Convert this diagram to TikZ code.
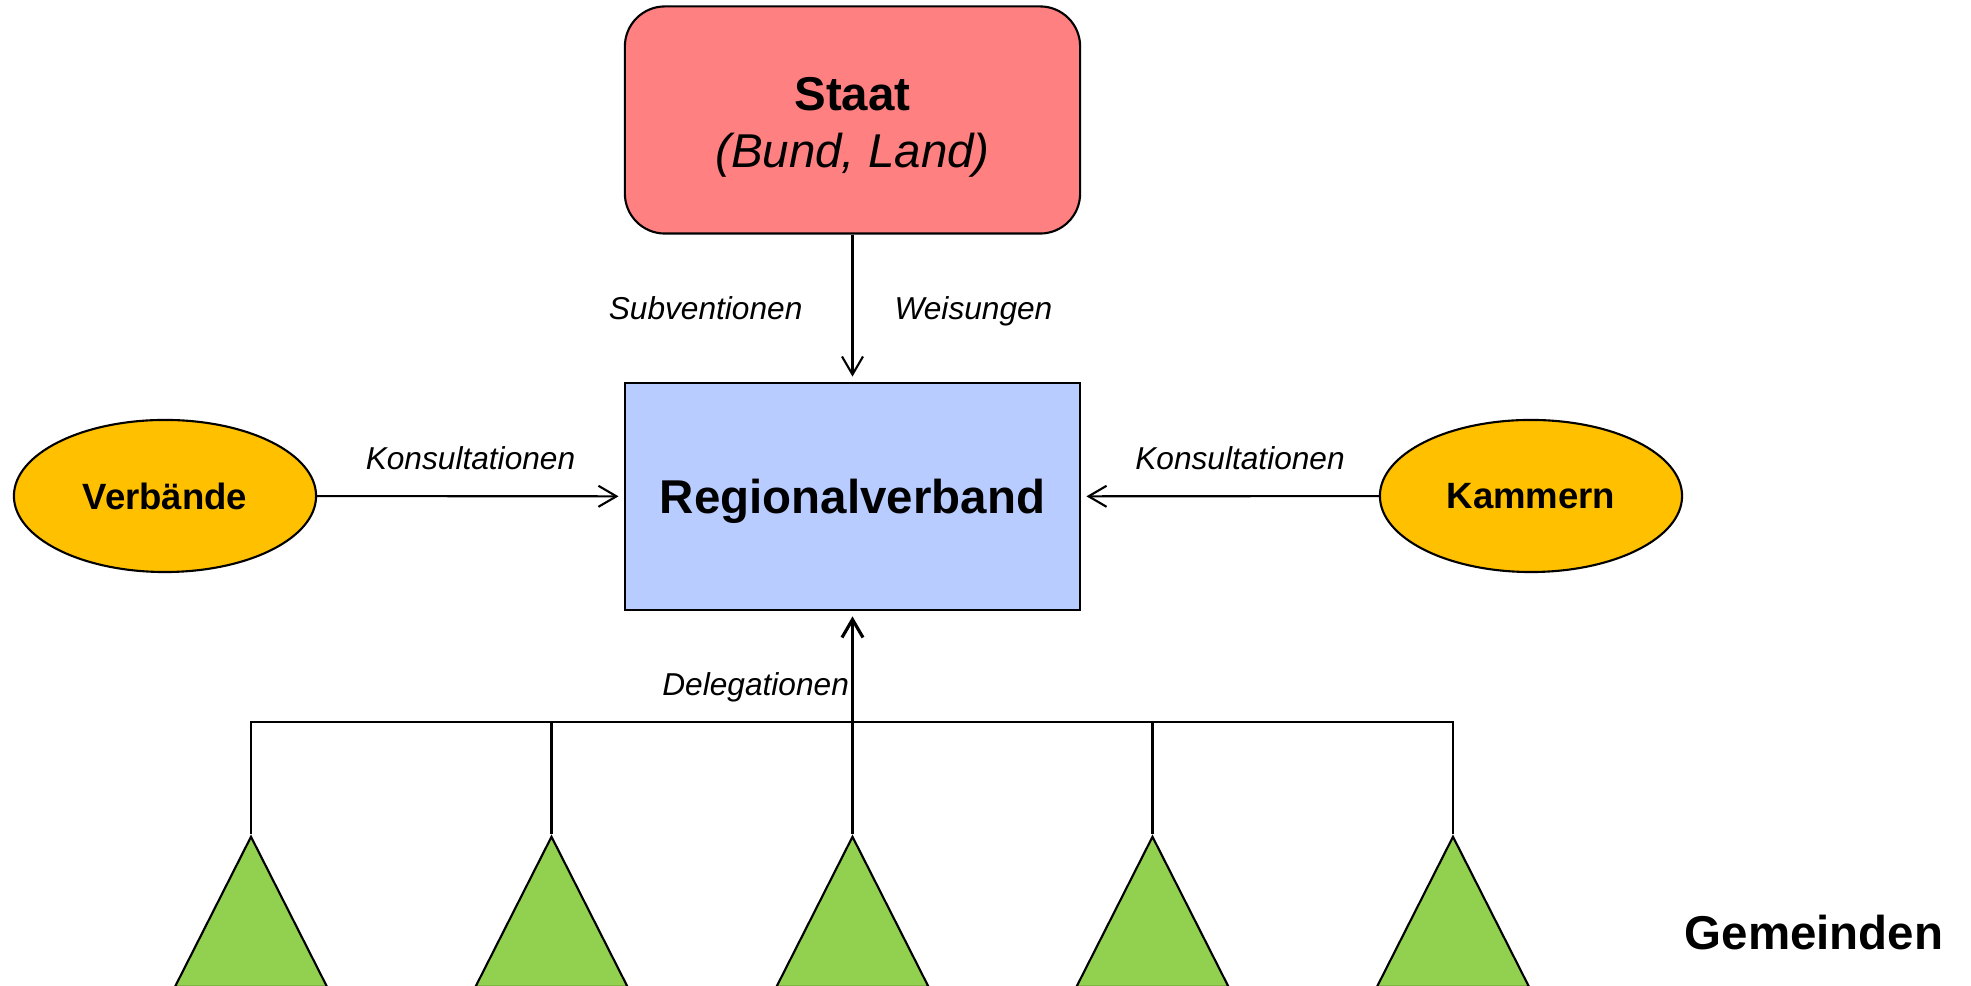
\documentclass[tikz,border=0pt]{standalone}
\usepackage{fontspec}
\setmainfont{Liberation Sans}
\usetikzlibrary{arrows.meta,shapes.geometric,positioning}
\definecolor{staatred}{RGB}{255,128,128}
\definecolor{rvblue}{RGB}{185,204,255}
\definecolor{gold}{RGB}{255,192,0}
\definecolor{leaf}{RGB}{146,208,80}

\begin{document}
\begin{tikzpicture}[x=0.01cm,y=-0.01cm,>={Straight Barb[length=0.18cm,width=0.21cm]},line width=0.6pt,
	box/.style={draw,minimum width=4.55cm,minimum height=2.27cm,inner sep=0pt},
	oval/.style={ellipse,draw,fill=gold,minimum width=3.02cm,minimum height=1.52cm,font=\bfseries\fontsize{10.4}{12}\selectfont},
	gem/.style={isosceles triangle,isosceles triangle stretches,shape border rotate=90,draw,fill=leaf,minimum width=1.52cm,minimum height=1.5cm,inner sep=0pt,anchor=apex},
	lbl/.style={font=\itshape\fontsize{9}{11}\selectfont,inner sep=0pt,text depth=0pt}]
					\useasboundingbox (0,0) rectangle (1971,986);
					
					\node[box,fill=staatred,rounded corners=0.4cm,align=center,font=\fontsize{13.5}{16.2}\selectfont] (staat) at (852.5,120) {\rule{0pt}{0.47cm}{\bfseries Staat}\\ \textit{(Bund, Land)}};
					\node[box,fill=rvblue,font=\bfseries\fontsize{13.5}{16}\selectfont,text depth=0pt] (rv) at (852.5,496.5) {Regionalverband};
					\node[oval] (verb) at (165,496) {Verbände};
					\node[oval] (kam) at (1531,496) {Kammern};
					
					\foreach \i/\x in {1/251,2/551.5,3/852.5,4/1152.5,5/1453}
						\node[gem] (g\i) at (\x,834) {};
					\node[font=\bfseries\fontsize{13.5}{16}\selectfont] (gemlbl) at (1814,933) {Gemeinden};
					\coordinate (bus) at (852.5,722);
					
					\draw[->,shorten >=1.5pt] (staat) edge node[lbl,left=0.49cm] {Subventionen} node[lbl,right=0.41cm] {Weisungen} (rv);
					\draw[->,shorten >=1.5pt] (verb) edge node[lbl,above=0.26cm] {Konsultationen} (rv);
					\draw[->,shorten >=1.5pt] (kam) edge node[lbl,above=0.26cm,xshift=0.1cm] {Konsultationen} (rv);
					
					\draw (g1.apex) -- (g1.apex |- bus) -- (g5.apex |- bus) -- (g5.apex);
					\foreach \i in {2,3,4}
						\draw (g\i.apex) -- (g\i.apex |- bus);
					\draw[->,line width=0.9pt,shorten >=1.5pt] (bus) -- node[lbl,pos=0.34,left=0.02cm] {Delegationen} (rv);
					\end{tikzpicture}
\end{document}
